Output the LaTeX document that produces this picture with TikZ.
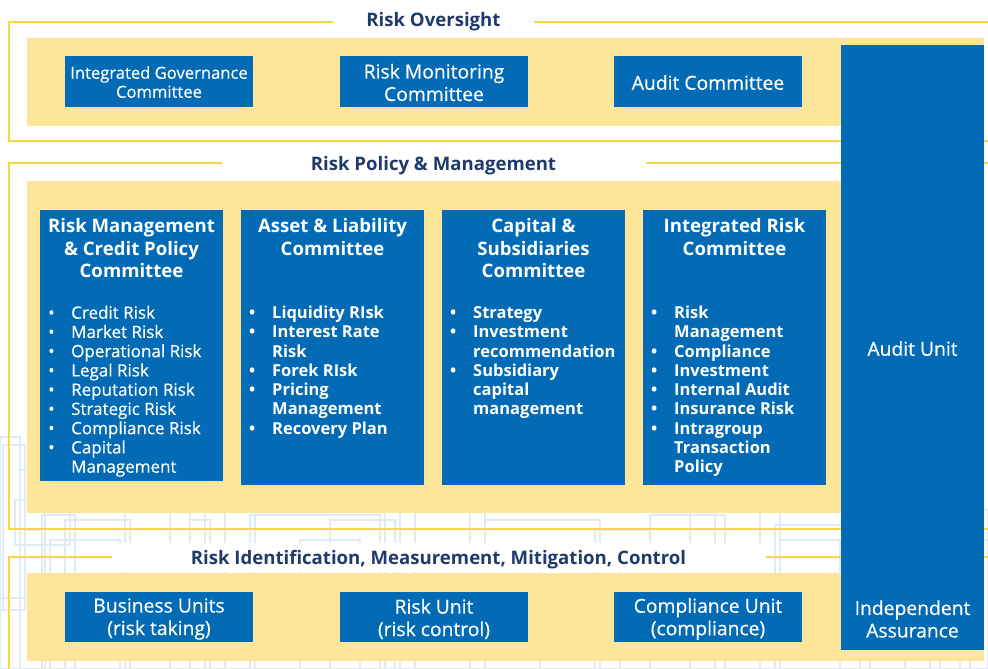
\documentclass[tikz,border=0pt]{standalone}
\usepackage{fontspec}
\setmainfont{Open Sans}
\newfontfamily\medf[FakeBold=0.35]{Open Sans}
\definecolor{boxblue}{HTML}{036BB5}
\definecolor{panelyel}{HTML}{FDE59A}
\definecolor{frameyel}{HTML}{FDD643}
\definecolor{titlenavy}{HTML}{1F3A6B}
\definecolor{bgpat}{HTML}{E1EBF7}
\begin{document}
\begin{tikzpicture}[x=1pt,y=-1pt,
  blk/.style={fill=boxblue, draw=none, text=white, inner sep=0pt, align=center},
  txtw/.style={inner sep=0pt, text=white, align=center},
  frm/.style={draw=frameyel, line width=1.4pt},
  ttl/.style={anchor=base, text=titlenavy, font=\bfseries\fontsize{18.6}{22}\selectfont, inner sep=0pt},
  boxtxt/.style={font=\medf\fontsize{19.3}{22.5}\selectfont},
  smalltxt/.style={font=\medf\fontsize{16.6}{19}\selectfont},
  hdr/.style={anchor=north, inner sep=0pt, text=white, font=\bfseries\fontsize{18.6}{22.5}\selectfont},
  bulreg/.style={anchor=north west, inner sep=0pt, text=white, font=\medf\fontsize{17}{19.25}\selectfont},
  bulbold/.style={anchor=north west, inner sep=0pt, text=white, font=\bfseries\fontsize{16.5}{19.25}\selectfont},
  pat/.style={draw=bgpat, line width=1.6pt}
]
\useasboundingbox (0,0) rectangle (988,669);
\fill[white] (0,0) rectangle (988,669);

% faint background pattern
\foreach \a/\b/\c/\d in {0/437/20/669, 3/445/25/610, 20/470/45/669, 15/500/70/545, 25/530/42/600,
  42/515/75/669, 65/520/130/669, 125/505/190/669, 190/520/210/669, 205/510/255/669,
  250/515/380/669, 330/520/395/669, 385/505/415/669, 415/512/485/669, 485/520/600/669,
  595/530/650/669, 650/515/725/669, 715/505/780/669, 775/525/860/669, 860/512/905/669,
  905/520/970/669, 960/510/988/669, 170/455/225/669, 400/460/470/669, 690/470/760/669,
  870/480/930/669, 50/540/120/669, 540/545/620/669, 300/540/360/669, 780/540/840/669,
  940/540/988/669, 0/598/25/610}
  \draw[pat] (\a,\b) rectangle (\c,\d);
\fill[white] (112,543) rectangle (766,572);

% frames
\draw[frm] (333,22) -- (9,22) -- (9,141) -- (988,141);
\draw[frm] (534,22) -- (988,22);
\draw[frm] (222,163) -- (9,163) -- (9,529) -- (988,529);
\draw[frm] (646,163) -- (988,163);
\draw[frm] (112,557) -- (9,557) -- (9,669);
\draw[frm] (766,557) -- (988,557);

% titles
\node[ttl] (t1) at (433.5,27) {Risk Oversight};
\node[ttl] (t2) at (433.5,170) {Risk Policy \& Management};
\node[ttl] (t3) at (438.5,564) {Risk Identification, Measurement, Mitigation, Control};

% panels
\fill[panelyel] (27,38) rectangle (984,126);
\fill[panelyel] (27,181) rectangle (984,513);
\fill[panelyel] (27,573) rectangle (984,661);

% audit column
\node[blk, minimum width=143pt, minimum height=605pt] (audit) at (912.5,347.5) {};
\node[txtw, boxtxt] (auditlbl) at (912.5,348.5) {Audit Unit};
\node[txtw, boxtxt] (indep) at (912.5,619) {Independent\\Assurance};

% top boxes
\node[blk, minimum width=188pt, minimum height=51pt] (igc) at (159,81.5) {};
\node[blk, minimum width=188pt, minimum height=51pt] (rmc) at (434,81.5) {};
\node[blk, minimum width=188pt, minimum height=51pt] (ac) at (708,81.5) {};
\node[txtw, smalltxt] (igct) at (159,82) {Integrated Governance\\Committee};
\node[txtw, boxtxt] (rmct) at (434,82.5) {Risk Monitoring\\Committee};
\node[txtw, boxtxt] (act) at (708,82.5) {Audit Committee};

% bottom boxes
\node[blk, minimum width=188pt, minimum height=50pt] (bu) at (159,617) {};
\node[blk, minimum width=188pt, minimum height=50pt] (ru) at (434,617) {};
\node[blk, minimum width=188pt, minimum height=50pt] (cu) at (708,617) {};
\node[txtw, boxtxt] (but) at (159,619) {Business Units\\(risk taking)};
\node[txtw, boxtxt] (rut) at (434,619) {Risk Unit\\(risk control)};
\node[txtw, boxtxt] (cut) at (708,619) {Compliance Unit\\(compliance)};

% policy boxes
\node[blk, minimum width=183pt, minimum height=271pt] (b1) at (131.5,345.5) {};
\node[blk, minimum width=183pt, minimum height=275pt] (b2) at (332.5,347.5) {};
\node[blk, minimum width=183pt, minimum height=275pt] (b3) at (533.5,347.5) {};
\node[blk, minimum width=183pt, minimum height=275pt] (b4) at (734.5,347.5) {};

\node[hdr] (b1h) at (131.5,216.7) {\begin{tabular}{@{}c@{}}Risk Management\\ \& Credit Policy\\ Committee\end{tabular}};
\node[hdr] (b2h) at (332.5,216.7) {\begin{tabular}{@{}c@{}}Asset \& Liability\\ Committee\end{tabular}};
\node[hdr] (b3h) at (533.5,216.7) {\begin{tabular}{@{}c@{}}Capital \&\\ Subsidiaries\\ Committee\end{tabular}};
\node[hdr] (b4h) at (734.5,216.7) {\begin{tabular}{@{}c@{}}Integrated Risk\\ Committee\end{tabular}};

\node[bulreg] (b1l) at (48,305) {\begin{tabular}{@{}p{23pt}@{}l@{}}
•&Credit Risk\\ •&Market Risk\\ •&Operational Risk\\ •&Legal Risk\\ •&Reputation Risk\\
•&Strategic Risk\\ •&Compliance Risk\\ •&Capital\\ &Management\end{tabular}};
\node[bulbold] (b2l) at (249,305) {\begin{tabular}{@{}p{23pt}@{}l@{}}
•&Liquidity RIsk\\ •&Interest Rate\\ &Risk\\ •&Forek RIsk\\ •&Pricing\\ &Management\\ •&Recovery Plan\end{tabular}};
\node[bulbold] (b3l) at (450,305) {\begin{tabular}{@{}p{23pt}@{}l@{}}
•&Strategy\\ •&Investment\\ &recommendation\\ •&Subsidiary\\ &capital\\ &management\end{tabular}};
\node[bulbold] (b4l) at (651,305) {\begin{tabular}{@{}p{23pt}@{}l@{}}
•&Risk\\ &Management\\ •&Compliance\\ •&Investment\\ •&Internal Audit\\ •&Insurance Risk\\
•&Intragroup\\ &Transaction\\ &Policy\end{tabular}};
\end{tikzpicture}
\end{document}
